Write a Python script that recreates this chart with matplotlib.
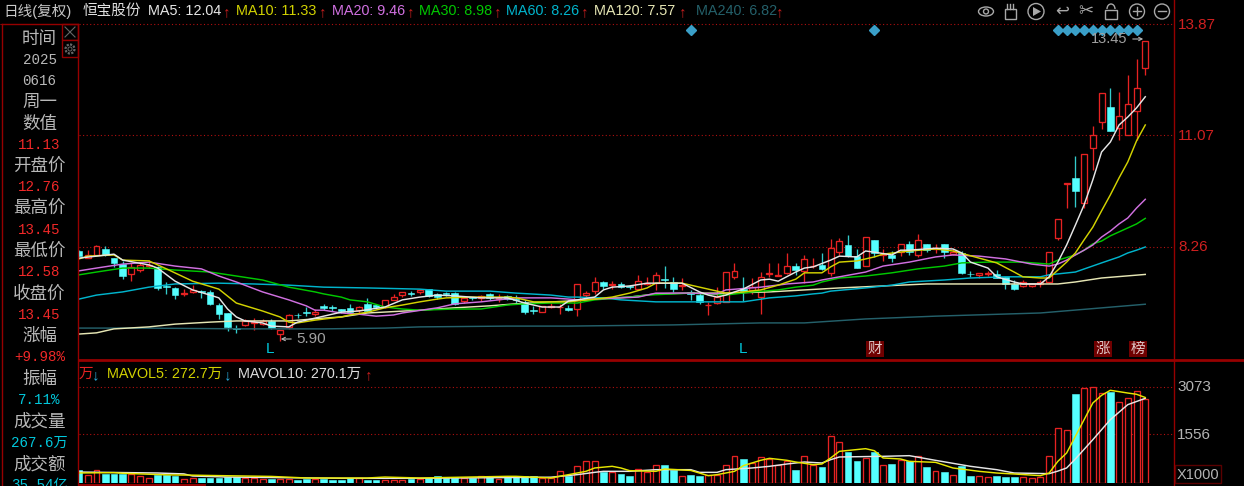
import numpy as np
import matplotlib
matplotlib.use('Agg')
import matplotlib.pyplot as plt
from matplotlib.patches import Rectangle, Circle, Ellipse, Polygon, Arc

# daily candles, index 0 is the one cut by the left edge
opens = [8.16,7.98,8.06,8.21,7.98,7.83,7.58,7.68,7.78,7.76,
         7.28,7.23,7.09,7.13,7.16,7.13,6.80,6.60,6.21,6.30,
         6.35,6.32,6.40,6.07,6.25,6.56,6.63,6.57,6.78,6.75,
         6.70,6.73,6.67,6.83,6.80,6.75,6.93,7.05,7.10,7.13,
         7.20,7.08,7.10,7.10,6.90,6.99,6.98,7.08,6.95,7.03,
         6.94,6.88,6.68,6.62,6.76,6.74,6.73,6.70,7.05,7.15,
         7.38,7.30,7.33,7.28,7.20,7.33,7.35,7.46,7.38,7.28,
         7.13,7.05,6.79,6.85,6.88,7.51,7.20,7.18,7.00,7.58,
         7.53,7.61,7.78,7.66,7.77,7.81,7.61,8.13,8.31,8.03,
         7.78,8.44,8.06,8.06,8.13,8.34,8.06,8.34,8.21,8.34,
         8.08,8.11,7.59,7.56,7.58,7.58,7.51,7.33,7.28,7.28,
         7.33,7.38,8.49,9.85,10.00,9.37,10.75,11.40,11.78,11.25,
         11.08,11.68,12.76]
highs = [8.18,8.18,8.31,8.29,7.98,7.91,7.86,7.88,7.93,7.78,
         7.38,7.25,7.20,7.30,7.18,7.18,6.85,6.60,6.30,6.45,
         6.47,6.45,6.45,6.17,6.57,6.60,6.75,6.70,6.83,6.80,
         6.70,6.83,6.78,6.98,6.83,6.93,7.08,7.13,7.15,7.20,
         7.20,7.10,7.13,7.13,7.00,7.00,7.05,7.10,7.08,7.05,
         7.05,6.93,6.78,6.78,6.85,6.83,6.80,7.33,7.15,7.51,
         7.40,7.40,7.38,7.30,7.56,7.51,7.63,7.78,7.51,7.48,
         7.18,7.10,6.88,7.25,7.63,7.86,7.51,7.48,7.63,7.86,
         7.86,8.11,7.86,8.06,7.98,8.11,8.46,8.49,8.56,8.21,
         8.51,8.44,8.21,8.16,8.34,8.41,8.59,8.34,8.34,8.34,
         8.21,8.16,7.66,7.61,7.66,7.68,7.51,7.43,7.43,7.33,
         7.43,8.13,8.96,9.87,10.55,10.60,11.30,12.13,12.26,12.16,
         12.59,12.99,13.45]
lows = [8.03,7.98,8.06,8.03,7.76,7.45,7.40,7.63,7.73,7.18,
        7.08,6.95,7.03,7.10,6.98,6.80,6.45,6.15,6.10,6.27,
        6.17,6.30,6.20,5.90,6.20,6.47,6.52,6.52,6.67,6.65,
        6.60,6.62,6.57,6.62,6.70,6.73,6.93,7.00,7.03,7.08,
        7.00,6.95,7.03,6.80,6.85,6.93,6.90,6.93,6.88,6.93,
        6.83,6.57,6.57,6.62,6.73,6.57,6.65,6.52,6.98,7.08,
        7.20,7.20,7.23,7.20,7.18,7.30,7.18,7.23,7.13,7.18,
        6.93,6.83,6.55,6.83,6.88,7.45,6.90,7.08,6.57,7.51,
        7.53,7.58,7.56,7.35,7.73,7.68,7.53,8.06,8.01,7.73,
        7.78,8.01,7.91,7.88,8.03,8.06,8.01,8.13,8.11,7.98,
        8.06,7.58,7.51,7.48,7.53,7.48,7.20,7.18,7.25,7.25,
        7.25,7.35,8.44,9.24,9.27,9.24,10.20,11.23,11.18,10.95,
        11.08,10.95,12.58]
closes = [8.03,8.06,8.29,8.06,7.86,7.53,7.76,7.81,7.81,7.23,
          7.25,7.05,7.11,7.18,7.14,6.83,6.57,6.25,6.19,6.40,
          6.37,6.40,6.22,6.17,6.55,6.54,6.61,6.62,6.73,6.73,
          6.65,6.62,6.75,6.65,6.75,6.93,7.00,7.13,7.08,7.18,
          7.03,7.00,7.08,6.83,6.98,6.97,7.03,6.98,6.98,6.95,
          6.92,6.62,6.66,6.78,6.78,6.76,6.67,7.33,7.10,7.38,
          7.28,7.33,7.25,7.25,7.40,7.35,7.56,7.44,7.20,7.30,
          7.08,6.88,6.81,7.00,7.63,7.66,7.15,7.25,7.51,7.61,
          7.56,7.78,7.68,7.96,7.79,7.71,8.23,8.41,8.03,7.73,
          8.51,8.11,8.08,7.98,8.34,8.13,8.44,8.18,8.23,8.13,
          8.13,7.61,7.57,7.61,7.61,7.48,7.33,7.20,7.38,7.33,
          7.38,8.13,8.96,9.87,9.67,10.60,11.08,12.13,11.18,11.56,
          11.86,12.26,13.45]
volumes = [415,255,415,290,290,290,290,220,160,255,
           255,220,128,160,160,150,150,190,190,160,
           160,125,140,125,140,100,130,125,140,110,
           90,155,155,95,95,100,95,110,120,115,
           160,213,160,160,160,160,213,213,128,190,
           190,213,213,160,160,372,234,532,691,691,
           351,351,298,213,457,351,564,585,425,213,
           266,213,245,245,564,851,776,638,819,766,
           585,691,425,851,585,521,1499,1298,979,712,
           787,979,585,606,734,691,851,521,393,361,
           266,532,234,223,181,234,202,202,181,149,
           202,861,1744,1701,2839,3020,3062,2861,2893,2574,
           2702,2935,2676]

# moving averages (candle index, value)
ma5_idx = [0,4,5,8,9,11,13,15,16,17,18,19,21,22,24,25,27,30,32,35,37,39,41,43,46,49,51,53,55,56,57,59,60,61,63,65,67,69,71,72,73,74,75,76,78,79,80,82,83,84,86,87,89,90,91,93,94,95,98,100,101,102,104,105,107,108,110,111,112,113,114,115,116,117,118,119,120,121,122]
ma5_val = [7.98,8.08,7.93,7.81,7.73,7.40,7.18,7.05,6.98,6.70,6.50,6.40,6.35,6.27,6.25,6.37,6.47,6.62,6.65,6.75,6.93,7.00,7.05,7.03,6.98,6.98,6.85,6.75,6.75,6.90,6.93,7.00,7.18,7.25,7.28,7.35,7.35,7.35,7.13,7.05,7.00,7.05,7.13,7.20,7.43,7.45,7.40,7.63,7.73,7.76,7.93,8.03,8.01,8.16,8.13,8.06,8.18,8.18,8.23,8.21,8.11,7.88,7.73,7.51,7.38,7.33,7.33,7.51,7.88,8.31,8.81,9.32,9.95,10.65,10.90,11.33,11.53,11.76,12.04]
ma10_idx = [0,1,4,5,8,10,13,16,18,21,23,24,25,27,30,31,33,35,37,39,41,42,45,49,50,52,54,56,59,61,63,65,66,69,71,72,74,76,78,80,82,83,85,86,87,89,91,92,95,98,100,103,105,107,108,110,111,112,113,114,115,116,117,118,119,120,121,122]
ma10_val = [7.96,8.03,8.06,7.93,7.91,7.71,7.40,7.20,6.85,6.65,6.50,6.37,6.35,6.42,6.50,6.55,6.62,6.73,6.80,6.88,6.95,6.98,7.00,7.00,6.98,6.88,6.88,6.88,6.95,7.00,7.10,7.23,7.35,7.35,7.25,7.20,7.10,7.13,7.18,7.30,7.45,7.61,7.61,7.76,7.88,7.91,8.01,8.08,8.16,8.21,8.16,7.98,7.86,7.63,7.51,7.48,7.48,7.68,7.88,8.11,8.44,8.76,9.17,9.57,10.00,10.40,10.93,11.33]
ma20_idx = [0,2,5,8,11,14,16,18,21,24,26,27,28,30,32,34,36,37,41,43,46,50,54,56,57,59,62,64,66,70,73,74,78,81,84,85,87,90,92,95,98,100,103,106,109,111,112,113,114,115,116,117,118,119,120,121,122]
ma20_val = [7.66,7.73,7.83,7.88,7.78,7.71,7.53,7.38,7.13,6.93,6.78,6.67,6.67,6.60,6.57,6.52,6.55,6.60,6.73,6.83,6.88,6.98,6.98,6.95,6.93,6.95,6.98,7.00,7.10,7.10,7.08,7.18,7.25,7.33,7.38,7.43,7.51,7.63,7.78,7.88,8.01,8.06,8.03,7.96,7.83,7.78,7.83,7.93,8.06,8.18,8.31,8.51,8.66,8.84,8.99,9.24,9.46]
ma30_idx = [0,2,5,8,11,15,18,21,24,27,28,30,31,33,35,37,39,43,46,49,51,54,56,57,59,63,65,70,74,77,80,82,84,85,87,90,93,96,99,101,104,108,111,112,114,115,116,117,118,119,120,121,122]
ma30_val = [7.56,7.63,7.73,7.73,7.68,7.63,7.53,7.43,7.25,7.13,7.08,7.00,6.93,6.88,6.75,6.70,6.67,6.70,6.70,6.80,6.83,6.85,6.85,6.85,6.93,7.00,7.05,7.10,7.05,7.13,7.18,7.25,7.30,7.38,7.48,7.53,7.61,7.71,7.78,7.86,7.88,7.88,7.83,7.93,8.06,8.18,8.34,8.41,8.54,8.64,8.74,8.84,8.98]
ma60_idx = [0,2,5,8,11,16,20,24,28,33,39,42,47,50,54,56,57,60,62,66,76,79,82,84,85,86,90,93,95,99,102,106,110,111,114,117,119,120,121,122]
ma60_val = [6.95,7.05,7.13,7.25,7.33,7.35,7.33,7.30,7.25,7.23,7.20,7.15,7.15,7.10,7.05,7.00,7.00,6.98,6.93,6.88,6.88,6.98,7.03,7.08,7.10,7.15,7.23,7.30,7.38,7.43,7.48,7.51,7.51,7.56,7.63,7.86,8.01,8.11,8.18,8.26]
ma120_idx = [0,2,4,8,11,15,18,24,28,30,33,39,43,47,50,56,59,63,66,70,74,79,83,87,92,97,112,114,117,122]
ma120_val = [6.07,6.10,6.20,6.25,6.32,6.37,6.40,6.40,6.47,6.50,6.60,6.67,6.73,6.78,6.83,6.90,6.95,7.00,7.08,7.10,7.10,7.13,7.18,7.23,7.28,7.33,7.33,7.38,7.48,7.57]
ma240_idx = [0,7,19,28,35,39,49,56,68,78,83,90,98,110,122]
ma240_val = [6.22,6.22,6.20,6.20,6.22,6.25,6.27,6.27,6.30,6.35,6.35,6.45,6.52,6.60,6.82]

mavol5_idx = [0,4,5,10,13,15,22,26,33,35,39,49,50,54,56,58,59,61,62,63,66,67,70,72,73,75,76,78,79,81,82,84,85,86,87,90,91,92,94,95,98,100,103,105,107,110,111,112,113,114,115,116,117,118,119,120,121,122]
mavol5_val = [320,330,310,260,250,240,210,160,160,190,160,213,213,160,266,372,479,532,479,394,372,447,400,234,266,372,553,724,787,724,670,585,606,798,1010,1095,1031,798,766,691,659,479,372,319,287,234,319,691,957,1490,2020,2552,2797,2957,2914,2870,2830,2727]
mavol10_idx = [0,9,12,13,17,30,39,54,57,59,60,63,66,70,71,73,74,77,79,81,83,85,86,87,92,95,98,102,105,107,111,112,113,114,116,118,120,122]
mavol10_val = [350,319,290,223,190,150,150,185,266,340,372,372,425,425,340,340,425,479,532,606,670,638,744,830,851,872,723,532,425,319,298,380,479,766,1382,2020,2500,2701]

# header text, colour per moving average
ma_labels = ['MA5: 12.04','MA10: 11.33','MA20: 9.46','MA30: 8.98','MA60: 8.26','MA120: 7.57','MA240: 6.82']
ma_colors = ['#e6e6e6','#d2d200','#d070e0','#00c800','#00b4cc','#e6e6b4','#24606a']
side_labels = ['时间','2025','0616','周一','数值','11.13','开盘价','12.76','最高价','13.45','最低价','12.58',
               '收盘价','13.45','涨幅','+9.98%','振幅','7.11%','成交量','267.6万','成交额','35.54亿']
side_colors = ['g','g','g','g','g','r','g','r','g','r','g','r','g','r','g','r','g','c','g','c','g','c']

W, H = 1244, 486
RED = '#e62222'
CYAN = '#55ffff'
DARK = '#960000'
GRAY = '#b4b4b4'
CJK = ['Liberation Sans', 'Noto Sans CJK SC', 'DejaVu Sans']
MONO = ['Liberation Mono', 'Noto Sans CJK SC', 'DejaVu Sans']

fig = plt.figure(figsize=(W / 100, H / 100), dpi=100, facecolor='black')


def box(x0, y0, x1, y1):
    return [x0 / W, 1 - y1 / H, (x1 - x0) / W, (y1 - y0) / H]


ax = fig.add_axes(box(79, 24, 1174, 358), facecolor='black')
vax = fig.add_axes(box(79, 362, 1174, 483), facecolor='black')
bg = fig.add_axes([0, 0, 1, 1], zorder=5)
bg.set_xlim(0, W)
bg.set_ylim(H, 0)
bg.axis('off')
bg.patch.set_alpha(0)

x = np.arange(len(closes))
o, h, l, c = map(np.array, (opens, highs, lows, closes))
up = c >= o
vols = np.array(volumes)
top = np.maximum(o, c)
bot = np.minimum(o, c)

# wicks stop at the body, the red bodies stay hollow
ax.vlines(x[up], top[up], h[up], color=RED, lw=0.95, zorder=2)
ax.vlines(x[up], l[up], bot[up], color=RED, lw=0.95, zorder=2)
ax.vlines(x[~up], l[~up], h[~up], color='#33cccc', lw=0.95, zorder=2)
ax.bar(x[up], (c - o)[up], bottom=o[up], width=0.68, facecolor='black', edgecolor=RED, lw=0.95, zorder=3)
ax.bar(x[~up], (o - c)[~up], bottom=c[~up], width=0.76, facecolor=CYAN, edgecolor=CYAN, lw=0.4, zorder=3)

ma_series = [(ma240_idx, ma240_val), (ma120_idx, ma120_val), (ma60_idx, ma60_val), (ma30_idx, ma30_val),
             (ma20_idx, ma20_val), (ma10_idx, ma10_val), (ma5_idx, ma5_val)]
for (ix, val), col in zip(ma_series, ma_colors[::-1]):
    ax.plot(ix, val, color=col, lw=1.05, zorder=4)

ax.set_xlim(0, (1174 - 79) / 8.74)
ax.set_ylim(13.87 - 334 / 39.75, 13.87)
for val in [13.87, 11.07, 8.26]:
    ax.axhline(val, color='#b01010', ls=(0, (1, 2.2)), lw=0.8, zorder=1, clip_on=False)
ax.axis('off')

# diamonds along the top of the price panel
marks = [70, 91, 112, 113, 114, 115, 116, 117, 118, 119, 120, 121]
ax.plot(marks, [13.72] * len(marks), ls='none', marker='D', ms=5, color='#3a9fc8', zorder=5)

vax.bar(x[up], vols[up], width=0.68, facecolor='black', edgecolor=RED, lw=0.95, zorder=3)
vax.bar(x[~up], vols[~up], width=0.76, facecolor=CYAN, edgecolor=CYAN, lw=0.4, zorder=3)
vax.plot(mavol10_idx, mavol10_val, color='#e6e6e6', lw=1.05, zorder=4)
vax.plot(mavol5_idx, mavol5_val, color='#e6e600', lw=1.05, zorder=5)
vax.set_xlim(0, (1174 - 79) / 8.74)
vax.set_ylim(0, 121 * 31.9)
for val in [3073, 1556]:
    vax.axhline(val, color='#b01010', ls=(0, (1, 2.2)), lw=0.8, zorder=1)
vax.axis('off')

# frame lines
bg.plot([79, W], [360, 360], color=DARK, lw=2)
bg.plot([1174, 1174], [0, H], color=DARK, lw=1)
bg.plot([2, 2], [24, H], color=DARK, lw=1)
bg.plot([78, 78], [24, H], color=DARK, lw=1)
bg.plot([2, 78], [24, 24], color=DARK, lw=1)
bg.plot([0, 2], [24, 24], color='#b01010', ls=(0, (1, 2.2)), lw=0.8)
bg.plot([79, 205], [484.5, 484.5], color=DARK, lw=1.4)
bg.add_patch(Rectangle((62, 24), 16, 16, fc='none', ec=DARK, lw=1))
bg.add_patch(Rectangle((62, 40), 16, 17, fc='black', ec=DARK, lw=1))
bg.plot([65, 75], [27, 37], color='#666666', lw=0.8)
bg.plot([65, 75], [37, 27], color='#666666', lw=0.8)
bg.add_patch(Circle((70, 49), 4.5, fc='none', ec='#666666', lw=1.6, ls=(0, (1, 0.6))))
bg.add_patch(Circle((70, 49), 2, fc='none', ec='#666666', lw=0.7))

# side panel
side_y = [39, 60, 81, 102, 124, 145, 166, 187, 208, 230, 251, 272, 294, 315, 336, 357, 379, 400, 421, 443, 464, 485]
pal = {'g': '#b8b8b8', 'r': '#f02828', 'c': '#00c8dc'}
for s, col, yy in zip(side_labels, side_colors, side_y):
    is_cjk = col == 'g' and not s[0].isdigit()
    bg.text(39.5, yy, s, color=pal[col], ha='center', va='center', clip_on=True,
            family=CJK if is_cjk else MONO, fontsize=12.6 if is_cjk else 10.2)

# header row
bg.text(3, 11, '日线(复权)', color='#c8c8c8', family=CJK, fontsize=10.5, va='center')
bg.text(83, 11, '恒宝股份', color='#e0e0e0', family=CJK, fontsize=10.5, va='center')
head_x = [148, 236, 332, 419, 506, 594, 696]
arrow_x = [223, 319, 407, 494, 581, 679, 776]
for s, col, xx, a_x in zip(ma_labels, ma_colors, head_x, arrow_x):
    bg.text(xx, 11, s, color=col, family=CJK, fontsize=10.4, va='center')
    bg.text(a_x, 12, '↑', color='#c81e1e', family=CJK, fontsize=11, va='center')

bg.text(79, 374, '万', color=RED, family=CJK, fontsize=10.5, va='center')
bg.text(92, 375, '↓', color='#2aa8d8', family=CJK, fontsize=11, va='center')
bg.text(107, 374, 'MAVOL5: 272.7万', color='#d2d200', family=CJK, fontsize=10.4, va='center')
bg.text(224, 375, '↓', color='#2aa8d8', family=CJK, fontsize=11, va='center')
bg.text(238, 374, 'MAVOL10: 270.1万', color='#dcdcdc', family=CJK, fontsize=10.4, va='center')
bg.text(365, 375, '↑', color='#c81e1e', family=CJK, fontsize=11, va='center')

# right axis
for s, yy in [('13.87', 25), ('11.07', 136), ('8.26', 247)]:
    bg.text(1178, yy, s, color='#d02020', family=CJK, fontsize=11, va='center')
for s, yy in [('3073', 387), ('1556', 435)]:
    bg.text(1177, yy, s, color=GRAY, family=CJK, fontsize=11, va='center')
bg.add_patch(Rectangle((1175, 465), 46, 18, fc='none', ec='#5a0000', lw=1))
bg.text(1177, 474.5, 'X1000', color=GRAY, family=CJK, fontsize=10.5, va='center')

# chart annotations
bg.text(270, 349, 'L', color='#00c8dc', family=CJK, fontsize=11, ha='center', va='center')
bg.text(743, 349, 'L', color='#00c8dc', family=CJK, fontsize=11, ha='center', va='center')
for s, xx in [('财', 875), ('涨', 1103), ('榜', 1138)]:
    bg.text(xx, 349, s, color='#e0c8c8', family=CJK, fontsize=10.5, ha='center', va='center',
            bbox=dict(fc='#700000', ec='none', pad=1))
bg.annotate('', xy=(278, 339), xytext=(294, 339), arrowprops=dict(arrowstyle='->', color=GRAY, lw=0.8, mutation_scale=6))
bg.text(296, 339, '5.90', color='#a0a0a0', family=CJK, fontsize=11, va='center')
bg.text(1091, 39, '13.45', color='#a0a0a0', family=CJK, fontsize=10.5, va='center')
bg.annotate('', xy=(1146, 39), xytext=(1130, 39), arrowprops=dict(arrowstyle='->', color=GRAY, lw=0.8, mutation_scale=6))

# toolbar icons
ic = '#a8a8a8'
bg.add_patch(Ellipse((986, 11.5), 15, 9, fc='none', ec=ic, lw=1))
bg.add_patch(Circle((986, 11.5), 2.5, fc='none', ec=ic, lw=1))
bg.add_patch(Rectangle((1005, 9), 11, 10, fc='none', ec=ic, lw=1))
for xx in [1007, 1010, 1013]:
    bg.plot([xx, xx], [4, 9], color=ic, lw=1)
bg.add_patch(Circle((1036, 11.5), 8, fc='none', ec=ic, lw=1))
bg.add_patch(Polygon([[1033, 7], [1033, 16], [1041, 11.5]], fc=ic, ec='none'))
bg.text(1062, 11, '↩', color=ic, family=CJK, fontsize=12, ha='center', va='center')
bg.text(1086, 11, '✂', color=ic, family=['DejaVu Sans'], fontsize=13, ha='center', va='center')
bg.add_patch(Rectangle((1105, 10), 12, 9, fc='none', ec=ic, lw=1))
bg.add_patch(Arc((1111, 9), 8, 10, theta1=180, theta2=360, ec=ic, lw=1))
for xx, signs in [(1137, True), (1162, False)]:
    bg.add_patch(Circle((xx, 11.5), 7.5, fc='none', ec=ic, lw=1))
    bg.plot([xx - 4, xx + 4], [11.5, 11.5], color=ic, lw=1)
    if signs:
        bg.plot([xx, xx], [7.5, 15.5], color=ic, lw=1)

fig.savefig('out.png', dpi=100, facecolor='black')
